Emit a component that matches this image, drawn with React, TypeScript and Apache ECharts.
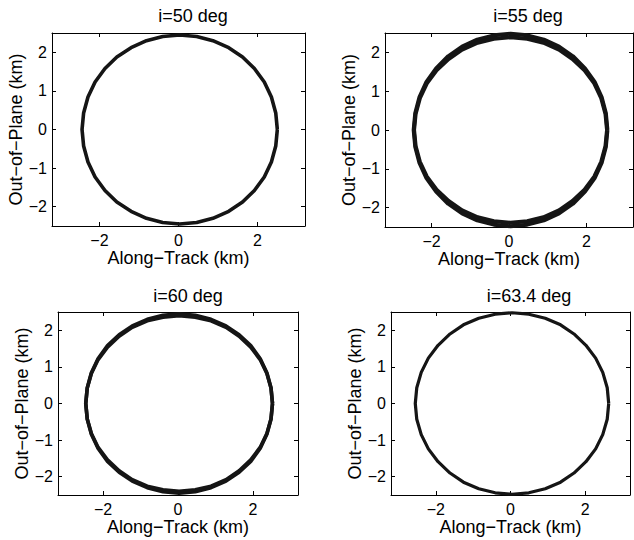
import React, { useEffect, useRef } from "react";
import * as echarts from "echarts";

// Tick labels
const xTickValues = [-2, 0, 2];
const yTickValues = [-2, -1, 0, 1, 2];
const xRange = [-3.2, 3.2];
const yRange = [-2.5, 2.5];

const titles = ["i=50 deg", "i=55 deg", "i=60 deg", "i=63.4 deg"];
const xName = "Along\u2212Track (km)";
const yName = "Out\u2212of\u2212Plane (km)";

// Traced points of each trajectory loop (every 10 deg)
const p1X = [2.50, 2.46, 2.35, 2.17, 1.92, 1.62, 1.27, 0.87, 0.46, 0.03, -0.40, -0.81, -1.20, -1.56, -1.86, -2.11, -2.29, -2.40, -2.44, -2.40, -2.29, -2.11, -1.86, -1.56, -1.20, -0.81, -0.40, 0.03, 0.46, 0.87, 1.27, 1.62, 1.92, 2.17, 2.35, 2.46, 2.50];
const p1Y = [0, 0.43, 0.84, 1.23, 1.58, 1.88, 2.12, 2.30, 2.41, 2.45, 2.41, 2.30, 2.12, 1.88, 1.58, 1.23, 0.84, 0.43, 0, -0.43, -0.84, -1.23, -1.58, -1.88, -2.12, -2.30, -2.41, -2.45, -2.41, -2.30, -2.12, -1.88, -1.58, -1.23, -0.84, -0.43, 0];

const p2aX = [2.54, 2.50, 2.39, 2.21, 1.96, 1.65, 1.29, 0.90, 0.47, 0.04, -0.39, -0.82, -1.21, -1.57, -1.88, -2.13, -2.31, -2.42, -2.46, -2.42, -2.31, -2.13, -1.88, -1.57, -1.21, -0.82, -0.39, 0.04, 0.47, 0.90, 1.29, 1.65, 1.96, 2.21, 2.39, 2.50, 2.54];
const p2aY = [0, 0.43, 0.85, 1.24, 1.59, 1.90, 2.15, 2.33, 2.44, 2.48, 2.44, 2.33, 2.15, 1.90, 1.59, 1.24, 0.85, 0.43, 0, -0.43, -0.85, -1.24, -1.59, -1.90, -2.15, -2.33, -2.44, -2.48, -2.44, -2.33, -2.15, -1.90, -1.59, -1.24, -0.85, -0.43, 0];
const p2bX = [2.53, 2.49, 2.38, 2.20, 1.95, 1.64, 1.29, 0.89, 0.47, 0.04, -0.39, -0.81, -1.21, -1.56, -1.87, -2.12, -2.30, -2.41, -2.45, -2.41, -2.30, -2.12, -1.87, -1.56, -1.21, -0.81, -0.39, 0.04, 0.47, 0.89, 1.29, 1.64, 1.95, 2.20, 2.38, 2.49, 2.53];
const p2bY = [0, 0.41, 0.82, 1.20, 1.54, 1.83, 2.07, 2.25, 2.35, 2.39, 2.35, 2.25, 2.07, 1.83, 1.54, 1.20, 0.82, 0.41, 0, -0.41, -0.82, -1.20, -1.54, -1.83, -2.07, -2.25, -2.35, -2.39, -2.35, -2.25, -2.07, -1.83, -1.54, -1.20, -0.82, -0.41, 0];

const p3X = [2.52, 2.48, 2.37, 2.19, 1.94, 1.63, 1.28, 0.88, 0.46, 0.03, -0.40, -0.82, -1.22, -1.57, -1.88, -2.13, -2.31, -2.42, -2.46, -2.42, -2.31, -2.13, -1.88, -1.57, -1.22, -0.82, -0.40, 0.03, 0.46, 0.88, 1.28, 1.63, 1.94, 2.19, 2.37, 2.48, 2.52];
const p3aY = [0, 0.43, 0.84, 1.23, 1.58, 1.88, 2.12, 2.30, 2.41, 2.45, 2.41, 2.30, 2.12, 1.88, 1.58, 1.23, 0.84, 0.43, 0, -0.43, -0.84, -1.23, -1.58, -1.88, -2.12, -2.30, -2.41, -2.45, -2.41, -2.30, -2.12, -1.88, -1.58, -1.23, -0.84, -0.43, 0];
const p3bY = [0, 0.42, 0.82, 1.20, 1.54, 1.84, 2.08, 2.26, 2.36, 2.40, 2.36, 2.26, 2.08, 1.84, 1.54, 1.20, 0.82, 0.42, 0, -0.42, -0.82, -1.20, -1.54, -1.84, -2.08, -2.26, -2.36, -2.40, -2.36, -2.26, -2.08, -1.84, -1.54, -1.20, -0.82, -0.42, 0];

const p4X = [2.63, 2.59, 2.47, 2.28, 2.02, 1.70, 1.34, 0.93, 0.49, 0.04, -0.41, -0.85, -1.26, -1.62, -1.94, -2.20, -2.39, -2.51, -2.55, -2.51, -2.39, -2.20, -1.94, -1.62, -1.26, -0.85, -0.41, 0.04, 0.49, 0.93, 1.34, 1.70, 2.02, 2.28, 2.47, 2.59, 2.63];
const p4Y = [0, 0.43, 0.85, 1.24, 1.59, 1.90, 2.15, 2.33, 2.44, 2.48, 2.44, 2.33, 2.15, 1.90, 1.59, 1.24, 0.85, 0.43, 0, -0.43, -0.85, -1.24, -1.59, -1.90, -2.15, -2.33, -2.44, -2.48, -2.44, -2.33, -2.15, -1.90, -1.59, -1.24, -0.85, -0.43, 0];

const loops = [
  [{ x: p1X, y: p1Y, w: 3.6 }],
  [{ x: p2aX, y: p2aY, w: 4 }, { x: p2bX, y: p2bY, w: 4 }],
  [{ x: p3X, y: p3aY, w: 3.6 }, { x: p3X, y: p3bY, w: 3.6 }],
  [{ x: p4X, y: p4Y, w: 3.2 }],
];

const grids = [
  { left: 52, top: 33, width: 253, height: 193 },
  { left: 385, top: 33, width: 248, height: 194 },
  { left: 58, top: 312, width: 240, height: 183 },
  { left: 391, top: 312, width: 239, height: 183 },
];
const titlePos = [
  { x: 193, y: 16 },
  { x: 528, y: 16 },
  { x: 188, y: 296 },
  { x: 529, y: 296 },
];

const FONT = "'Liberation Sans', Arial, Helvetica, sans-serif";
const fmt = (v: number) => String(v).replace("-", "\u2212");

export default function App() {
  const ref = useRef<HTMLDivElement>(null);
  useEffect(() => {
    if (!ref.current) return;
    const chart = echarts.init(ref.current, undefined, { renderer: "svg" });
    const line = { show: true, onZero: false, lineStyle: { color: "#000", width: 1 } };
    const xAxis: any[] = [];
    const yAxis: any[] = [];
    const series: any[] = [];
    grids.forEach((g, i) => {
      xAxis.push({
        type: "value", gridIndex: i, position: "bottom", min: xRange[0], max: xRange[1],
        axisLine: line, splitLine: { show: false },
        axisTick: { show: true, inside: true, length: 4, lineStyle: { color: "#000" }, customValues: xTickValues },
        axisLabel: { show: true, customValues: xTickValues, formatter: fmt, margin: 6, color: "#000", fontSize: 16, fontFamily: FONT },
        name: xName, nameLocation: "middle", nameGap: 21,
        nameTextStyle: { color: "#000", fontSize: 18, fontFamily: FONT },
      });
      xAxis.push({
        type: "value", gridIndex: i, position: "top", min: xRange[0], max: xRange[1],
        axisLine: line, splitLine: { show: false },
        axisTick: { show: true, inside: true, length: 4, lineStyle: { color: "#000" }, customValues: xTickValues },
        axisLabel: { show: false },
      });
      yAxis.push({
        type: "value", gridIndex: i, position: "left", min: yRange[0], max: yRange[1],
        axisLine: line, splitLine: { show: false },
        axisTick: { show: true, inside: true, length: 4, lineStyle: { color: "#000" }, customValues: yTickValues },
        axisLabel: { show: true, customValues: yTickValues, formatter: fmt, margin: 5, color: "#000", fontSize: 16, fontFamily: FONT },
        name: yName, nameLocation: "middle", nameGap: 27, nameRotate: 90,
        nameTextStyle: { color: "#000", fontSize: 18, fontFamily: FONT },
      });
      yAxis.push({
        type: "value", gridIndex: i, position: "right", min: yRange[0], max: yRange[1],
        axisLine: line, splitLine: { show: false },
        axisTick: { show: true, inside: true, length: 4, lineStyle: { color: "#000" }, customValues: yTickValues },
        axisLabel: { show: false },
      });
      loops[i].forEach((lp) => {
        series.push({
          type: "line", xAxisIndex: 2 * i, yAxisIndex: 2 * i,
          data: lp.x.map((xv, k) => [xv, lp.y[k]]),
          showSymbol: false, symbol: "none", smooth: false,
          lineStyle: { color: "#151515", width: lp.w, join: "round" }, z: 1,
        });
      });
    });
    chart.setOption({
      animation: false,
      backgroundColor: "#fff",
      grid: grids.map((g) => ({ ...g, containLabel: false })),
      xAxis, yAxis, series,
      graphic: titles.map((t, i) => ({
        type: "text", x: titlePos[i].x, y: titlePos[i].y,
        style: { text: t, fill: "#000", font: `18px ${FONT}`, align: "center", verticalAlign: "middle" },
      })),
    });
    return () => chart.dispose();
  }, []);
  return <div ref={ref} style={{ position: "fixed", left: 0, top: 0, width: 634, height: 540 }} />;
}
